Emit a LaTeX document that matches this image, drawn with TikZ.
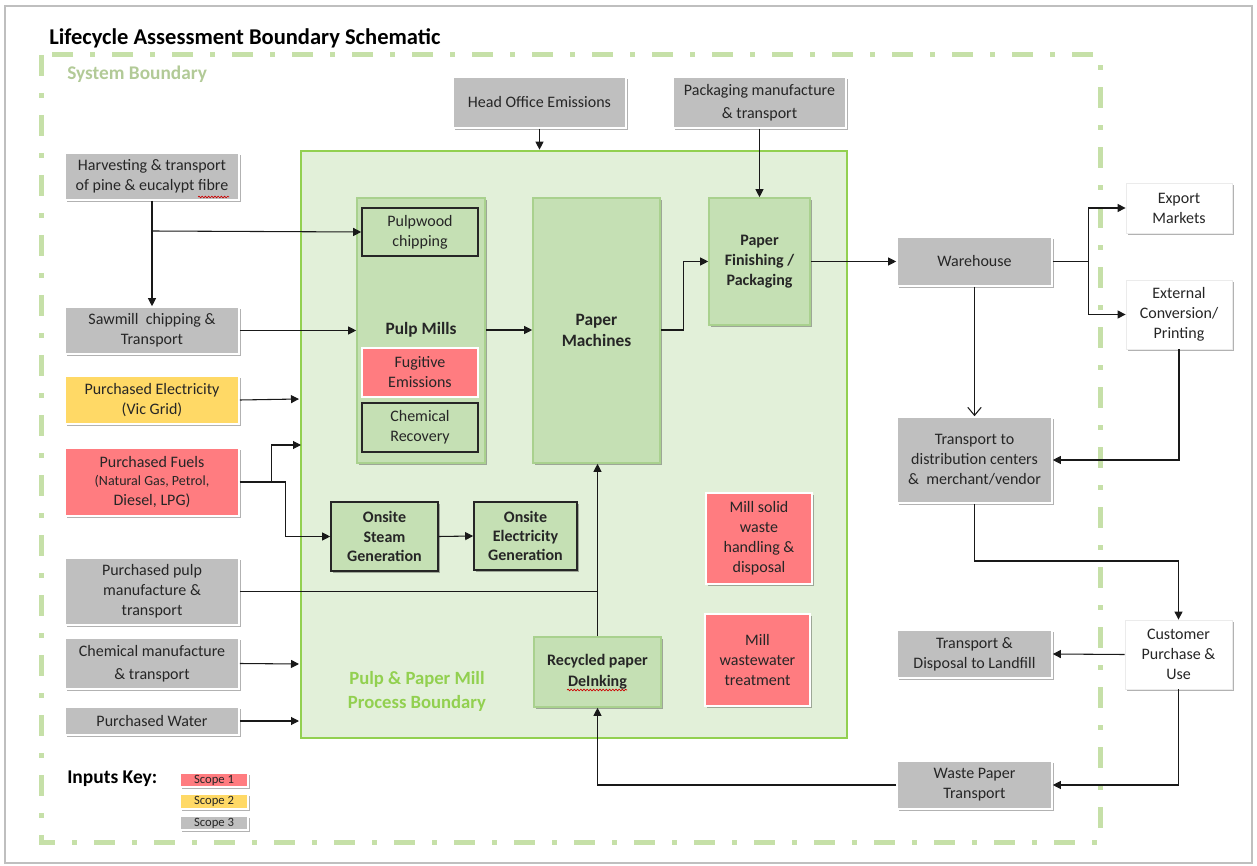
\documentclass[tikz,border=0pt]{standalone}
\usepackage{fontspec}
\setmainfont{Carlito}
\usetikzlibrary{arrows.meta,shadows,decorations.pathmorphing}
\definecolor{sgray}{HTML}{BFBFBF}
\definecolor{sred}{HTML}{FF7C80}
\definecolor{syel}{HTML}{FFD966}
\definecolor{lgreen}{HTML}{C5E0B4}
\definecolor{lgreenb}{HTML}{A9D18E}
\definecolor{pfill}{HTML}{E2F0D9}
\definecolor{pgreen}{HTML}{92D050}
\definecolor{dashg}{HTML}{C6E0A8}
\definecolor{txt}{HTML}{262626}
\newcommand\mybox[7]{\node[#6, minimum width={(#4-#2)*0.75pt}, minimum height={(#5-#3)*0.75pt}] (#1) at ({(#2+#4)/2},{(#3+#5)/2}) {#7};}
\tikzset{
  base/.style={rectangle, inner sep=0pt, align=center, text=txt, font=\fontsize{12}{15}\selectfont},
  shd/.style={drop shadow={shadow xshift=1.5pt, shadow yshift=-1.5pt, opacity=0.3, fill=black}},
  graybox/.style={base, shd, fill=sgray, draw=white, line width=1.2pt},
  redbox/.style={base, shd, fill=sred, draw=white, line width=1.2pt},
  yelbox/.style={base, shd, fill=syel, draw=white, line width=1.2pt},
  whitebox/.style={base, shd, fill=white, draw=black!8, line width=0.6pt},
  greenbox/.style={base, shd, fill=lgreen, draw=lgreenb, line width=1.2pt, font=\fontsize{12}{15}\selectfont\bfseries},
  blkgreen/.style={base, fill=lgreen, draw=black!85, line width=1.2pt},
  arr/.style={draw=black!90, line width=0.8pt, -{Triangle[length=6pt,width=6pt]}},
  ln/.style={draw=black!90, line width=0.8pt},
  barb/.style={draw=black!90, line width=0.8pt, -{Straight Barb[length=6pt,width=10pt]}},
  squig/.style={draw=red!80!black, line width=0.5pt, decorate, decoration={snake, amplitude=0.6pt, segment length=2.4pt}},
}
\begin{document}
\begin{tikzpicture}[x=0.75pt,y=-0.75pt]
\useasboundingbox (0,0) rectangle (1257,866);
% frame
\draw[black!25, line width=0.9pt] (5,6) rectangle (1252,863);
% title
\node[anchor=west, inner sep=0pt, font=\fontsize{16.9}{20}\selectfont\bfseries] (title) at (49,38) {Lifecycle Assessment Boundary Schematic};
% system boundary
\draw[dashg, line width=3.75pt, dash pattern=on 15.75pt off 12.75pt on 3.75pt off 12.75pt] (41,55) rectangle (1100,842);
\node[anchor=west, inner sep=0pt, text=dashg!90!black, font=\fontsize{14.5}{17}\selectfont\bfseries] (sblab) at (67,74) {System Boundary};
% process boundary
\mybox{proc}{301}{151}{847}{738}{base, fill=pfill, draw=pgreen, line width=2pt}{}
\node[base, text=pgreen, font=\fontsize{14}{18}\selectfont\bfseries] (plab) at (417,691) {Pulp \& Paper Mill\\Process Boundary};
% pulp mills
\mybox{pm}{357}{198}{485}{463}{greenbox}{}
\node[base, font=\fontsize{13}{16}\selectfont\bfseries] (pmlab) at (421,330) {Pulp Mills};
\mybox{pwc}{362}{208}{478}{256}{blkgreen}{Pulpwood\\chipping}
\mybox{fug}{362}{348}{478}{397}{base, fill=sred, draw=white, line width=1.2pt}{Fugitive\\Emissions}
\mybox{chr}{362}{403}{478}{452}{blkgreen}{Chemical\\Recovery}
\mybox{pmach}{533}{198}{660}{463}{greenbox, font=\fontsize{13}{16}\selectfont\bfseries}{Paper\\Machines}
\mybox{pfin}{709}{198}{810}{325}{greenbox}{Paper\\Finishing /\\Packaging}
\mybox{steam}{331}{502}{438}{571}{blkgreen, shd, font=\fontsize{12}{14.5}\selectfont\bfseries}{Onsite\\Steam\\Generation}
\mybox{eleg}{474}{502}{577}{570}{blkgreen, shd, font=\fontsize{12}{14.5}\selectfont\bfseries}{Onsite\\Electricity\\Generation}
\mybox{msw}{706}{493}{812}{584}{redbox}{Mill solid\\waste\\handling \&\\disposal}
\mybox{mww}{705}{614}{810}{706}{redbox}{Mill\\wastewater\\treatment}
\mybox{recyc}{534}{637}{661}{707}{greenbox, font=\fontsize{12}{16}\selectfont\bfseries}{Recycled paper\\DeInking}
% top inputs
\mybox{ho}{453}{77}{626}{128}{graybox}{Head Office Emissions}
\mybox{pack}{673}{77}{846}{128}{graybox, font=\fontsize{12}{17}\selectfont}{Packaging manufacture\\\& transport}
% left inputs
\mybox{harv}{65}{153}{239}{200}{graybox}{Harvesting \& transport\\of pine \& eucalypt fibre}
\mybox{saw}{65}{307}{239}{354}{graybox}{Sawmill\ \ chipping \&\\Transport}
\mybox{elec}{65}{376}{239}{424}{yelbox}{Purchased Electricity\\(Vic Grid)}
\mybox{fuel}{65}{448}{239}{516}{redbox}{Purchased Fuels\\[-1pt]\fontsize{10.5}{13.5}\selectfont (Natural Gas, Petrol,\\Diesel, LPG)}
\mybox{ppulp}{65}{558}{239}{625}{graybox}{Purchased pulp\\manufacture \&\\transport}
\mybox{chem}{65}{638}{239}{689}{graybox, font=\fontsize{12}{17}\selectfont}{Chemical manufacture\\\& transport}
\mybox{water}{65}{707}{239}{735}{graybox}{Purchased Water}
% right side
\mybox{wh}{897}{237}{1052}{286}{graybox}{Warehouse}
\mybox{exp}{1126}{183}{1232}{233}{whitebox}{Export\\Markets}
\mybox{ext}{1126}{280}{1232}{349}{whitebox}{External\\Conversion/\\Printing}
\mybox{td}{897}{417}{1052}{503}{graybox}{Transport to\\distribution centers\\\&\ \ merchant/vendor}
\mybox{cust}{1125}{620}{1232}{689}{whitebox}{Customer\\Purchase \&\\Use}
\mybox{land}{897}{630}{1052}{678}{graybox}{Transport \&\\Disposal to Landfill}
\mybox{wpt}{897}{761}{1052}{809}{graybox}{Waste Paper\\Transport}
% key
\node[anchor=west, inner sep=0pt, font=\fontsize{14.6}{17}\selectfont\bfseries] (key) at (67,779) {Inputs Key:};
\mybox{sc1}{180}{773}{248}{787}{redbox, line width=0.8pt, font=\fontsize{9.5}{10}\selectfont}{Scope 1}
\mybox{sc2}{180}{794}{248}{809}{yelbox, line width=0.8pt, font=\fontsize{9.5}{10}\selectfont}{Scope 2}
\mybox{sc3}{180}{816}{248}{830}{graybox, line width=0.8pt, font=\fontsize{9.5}{10}\selectfont}{Scope 3}
% spell-check squiggles
\draw[squig] (198,197) -- (229,197);
\draw[squig] (567,690) -- (627,690);
% coordinates
\coordinate (j1) at (152,231);
\coordinate (pinElec) at (299,399);
\coordinate (pinFuel) at (301,445);
\coordinate (pinChem) at (299,664);
\coordinate (pinWater) at (299,721);
\coordinate (y561) at (0,561);
% connectors
\draw[arr] (harv.south) -- (saw.north);
\draw[arr] (j1) -- (pwc.west);
\draw[arr] (saw.east) -- (pm.west |- saw.east);
\draw[arr] (elec.east) -- (pinElec);
\draw[arr] (fuel.east) -- ++(32,0) |- (pinFuel);
\draw[arr] (fuel.east) -- ++(46,0) |- (steam.west);
\draw[arr] (steam.east) -- (eleg.west);
\draw[ln] (ppulp.east) -- (ppulp.east -| recyc.north);
\draw[arr] (recyc.north) -- (recyc.north |- pmach.south);
\draw[arr] (chem.east) -- (pinChem);
\draw[arr] (water.east) -- (pinWater);
\draw[arr] (ho.south) -- (ho.south |- proc.north);
\draw[arr] (pack.south) -- (pfin.north);
\draw[arr] (pm.east |- pmlab) -- (pmach.west |- pmlab);
\draw[arr] (pmach.east |- pmlab) -- ++(23,0) |- (pfin.west);
\draw[arr] (pfin.east) -- (wh.west);
\draw[arr] (wh.east) -- ++(36,0) |- (exp.west);
\draw[arr] (wh.east) -- ++(36,0) |- (ext.west);
\draw[barb] (wh.south) -- (td.north);
\draw[arr] (ext.south) |- (td.east);
\draw[arr] (td.south) -- (td.south |- y561) -| (cust.north);
\draw[arr] (cust.west) -- (land.east);
\draw[arr] (cust.south) |- (wpt.east);
\draw[arr] (wpt.west) -| (recyc.south);
\end{tikzpicture}
\end{document}
